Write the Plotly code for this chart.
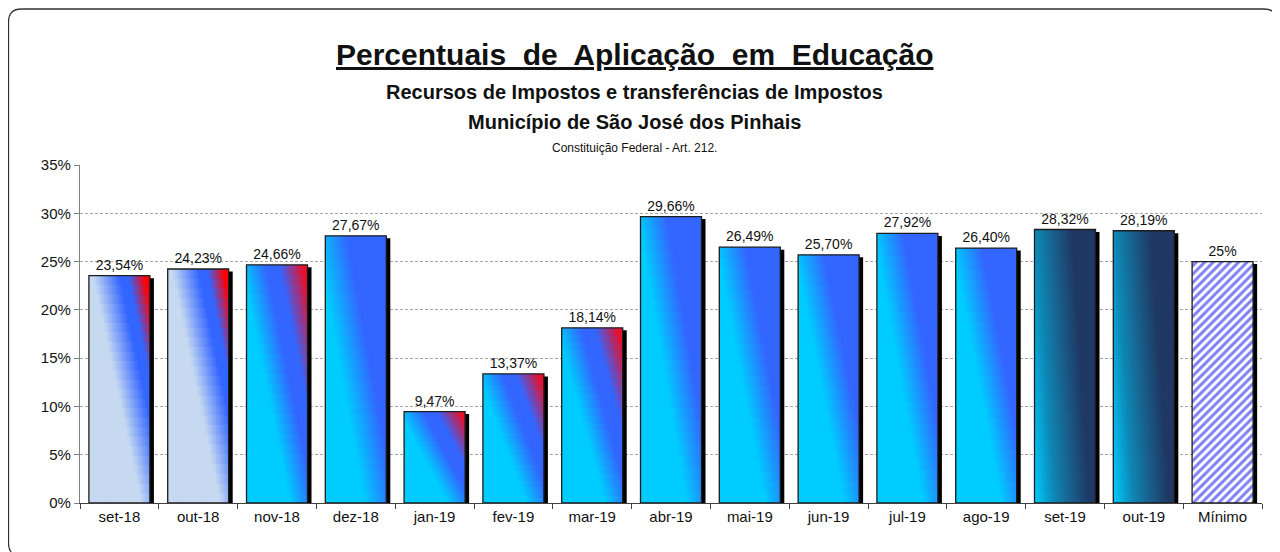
import plotly.graph_objects as go

# dados
meses = ["set-18", "out-18", "nov-18", "dez-18", "jan-19", "fev-19", "mar-19",
         "abr-19", "mai-19", "jun-19", "jul-19", "ago-19", "set-19", "out-19"]
percentuais = [23.54, 24.23, 24.66, 27.67, 9.47, 13.37, 18.14,
               29.66, 26.49, 25.70, 27.92, 26.40, 28.32, 28.19]
minimo_rotulo = ["Mínimo"]
minimo_valor = [25]

# estilo de preenchimento de cada barra
estilos = ["claro", "claro", "ciano_vermelho", "ciano_forte", "ciano_vermelho",
           "ciano_vermelho", "ciano_vermelho", "ciano", "ciano", "ciano", "ciano",
           "ciano", "escuro", "escuro"]

todas_cat = meses + minimo_rotulo
todos_val = percentuais + minimo_valor

# degradês diagonais (peso vertical, paradas de cor)
CIANO, AZUL, CLARO, VERM = "#00CCFF", "#3366FF", "#C6D9F1", "#E8102A"
gradientes = {
    "claro": (0.8, [(0, CLARO), (0.48, CLARO), (0.72, AZUL), (0.8, AZUL), (0.95, "#FF0000"), (1.0, "#FF0000")]),
    "ciano_vermelho": (0.8, [(0, CIANO), (0.4, CIANO), (0.62, AZUL), (0.74, AZUL), (0.95, VERM), (1.0, VERM)]),
    "ciano_forte": (0.8, [(0, CIANO), (0.36, CIANO), (0.64, AZUL), (1.0, AZUL)]),
    "ciano": (0.8, [(0, CIANO), (0.42, CIANO), (0.68, AZUL), (1.0, AZUL)]),
    "escuro": (0.3, [(0, CIANO), (0.25, "#0E87B5"), (0.5, "#1A5A86"), (0.7, "#1F3864"), (1.0, "#1F3864")]),
}


def hex_rgb(h):
    h = h.lstrip("#")
    return [int(h[i:i + 2], 16) for i in (0, 2, 4)]


def cor_em(nome, u, v):
    a, paradas = gradientes[nome]
    s = (u + a * v) / (1 + a)
    for (s0, c0), (s1, c1) in zip(paradas[:-1], paradas[1:]):
        if s <= s1:
            t = 0 if s1 == s0 else (s - s0) / (s1 - s0)
            r0, r1 = hex_rgb(c0), hex_rgb(c1)
            return "rgb(%d,%d,%d)" % tuple(round(x + (y - x) * t) for x, y in zip(r0, r1))
    return paradas[-1][1]


LARG = 0.774          # largura das barras (unid. de categoria)
DX = 0.051            # deslocamento da sombra
DY = 0.26             # rebaixo da sombra (em %)
N_COL, N_LIN = 24, 24
SOBRA = 0.1           # sobreposição vertical das faixas (em %)

fig = go.Figure()

# sombra
fig.add_trace(go.Bar(
    x=todas_cat, y=[v - DY for v in todos_val], width=LARG, offset=-LARG / 2 + DX,
    marker=dict(color="black", line=dict(width=0)), hoverinfo="skip", showlegend=False))

# preenchimento em degradê, feito de pequenas faixas
for r in range(N_LIN):
    for c in range(N_COL):
        u = (c + 0.5) / N_COL
        v = (r + 0.5) / N_LIN
        cores = [cor_em(e, u, v) for e in estilos]
        fw = 1.0 if c == N_COL - 1 else 1.4
        extra = 0 if r == N_LIN - 1 else SOBRA
        fig.add_trace(go.Bar(
            x=meses, y=[p / N_LIN + extra for p in percentuais],
            base=[p * r / N_LIN for p in percentuais],
            width=LARG / N_COL * fw, offset=-LARG / 2 + c * LARG / N_COL,
            marker=dict(color=cores, line=dict(width=0)),
            hoverinfo="skip", showlegend=False))

# barra do mínimo, hachurada
fig.add_trace(go.Bar(
    x=minimo_rotulo, y=minimo_valor, width=LARG, offset=-LARG / 2,
    marker=dict(color="white", line=dict(width=0),
                pattern=dict(shape="/", fgcolor="#0000EE", bgcolor="white", size=6, solidity=0.5)),
    hoverinfo="skip", showlegend=False))

FONTE = "Liberation Sans, Arial, sans-serif"

# contorno + rótulos
fig.add_trace(go.Bar(
    x=todas_cat, y=todos_val, width=LARG, offset=-LARG / 2,
    marker=dict(color="rgba(0,0,0,0)", line=dict(color="#1c1c1c", width=1.3)),
    texttemplate=["%{y:.2f}%"] * len(meses) + ["%{y:.0f}%"],
    textposition="outside", cliponaxis=False,
    textfont=dict(family=FONTE, size=14, color="#111"),
    showlegend=False))

# a página tem 8px de margem no corpo: compensado nas margens
fig.update_layout(
    width=1280, height=552,
    margin=dict(l=72, r=26, t=157, b=57),
    paper_bgcolor="white", plot_bgcolor="white",
    barmode="overlay", separators=",.",
    font=dict(family=FONTE, color="#111"),
    xaxis=dict(type="category", categoryorder="array", categoryarray=todas_cat,
               range=[-0.5, len(todas_cat) - 0.5],
               showline=True, linecolor="#404040", linewidth=1.3,
               ticks="outside", tickson="boundaries", ticklen=5, tickcolor="#404040",
               tickfont=dict(family=FONTE, size=15, color="#111"), showgrid=False),
    yaxis=dict(range=[0, 35], dtick=5, ticksuffix="%",
               showline=True, linecolor="#808080", linewidth=1.3,
               ticks="outside", ticklen=5, tickcolor="#808080",
               tickfont=dict(family=FONTE, size=15, color="#111"),
               showgrid=True, gridcolor="#A6A6A6", griddash="3px,2px", gridwidth=1,
               zeroline=False),
)

# títulos
titulos = [
    ("<b><u>Percentuais\u00a0 de\u00a0 Aplicação\u00a0 em\u00a0 Educação</u></b>", 30, 1.328),
    ("<b>Recursos de Impostos e transferências de Impostos</b>", 20, 1.216),
    ("<b>Município de São José dos Pinhais</b>", 20, 1.128),
    ("Constituição Federal - Art. 212.", 12, 1.051),
]
for txt, tam, ypos in titulos:
    fig.add_annotation(text=txt, xref="paper", yref="paper", x=0.469, y=ypos,
                       xanchor="center", yanchor="middle", showarrow=False,
                       font=dict(family=FONTE, size=tam, color="#111"))

# moldura arredondada (coordenadas de tela convertidas para paper)
x0, x1 = (8.5 - 80) / 1182, (1277 - 80) / 1182
y0, y1 = (503 - 556) / 338, (503 - 9) / 338
rx, ry = 13 / 1182, 13 / 338
caminho = (f"M {x0 + rx} {y1} L {x1 - rx} {y1} Q {x1} {y1} {x1} {y1 - ry} "
           f"L {x1} {y0 + ry} Q {x1} {y0} {x1 - rx} {y0} L {x0 + rx} {y0} "
           f"Q {x0} {y0} {x0} {y0 + ry} L {x0} {y1 - ry} Q {x0} {y1} {x0 + rx} {y1} Z")
fig.add_shape(type="path", path=caminho, xref="paper", yref="paper",
              line=dict(color="#333", width=1.3), layer="above")

fig.write_html("out.html")
